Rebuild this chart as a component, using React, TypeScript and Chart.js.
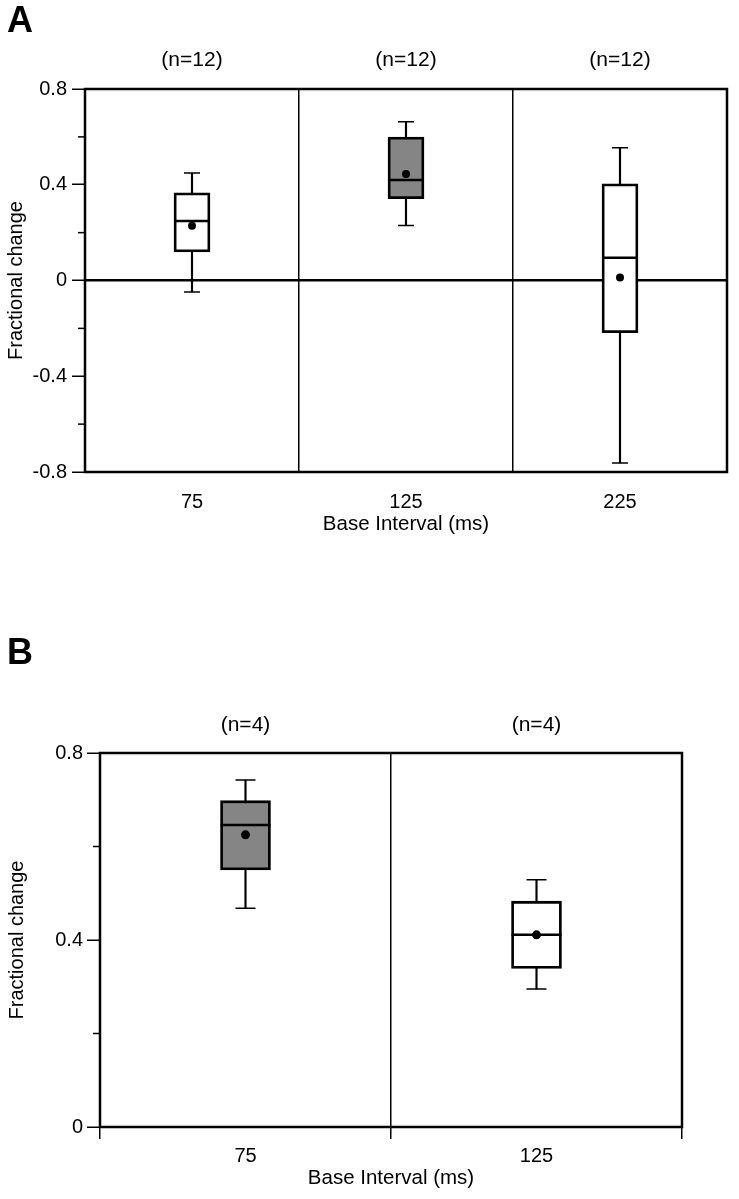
import React, { useEffect, useRef } from 'react';
import { Chart, registerables } from 'chart.js';

Chart.register(...registerables);

const FONT = "'Liberation Sans', Arial, Helvetica, sans-serif";
const GREY = '#858585';

// ---------- Panel A ----------
const categoriesA = ['75', '125', '225'];
const countLabelsA = ['(n=12)', '(n=12)', '(n=12)'];
const whiskerLowA = [-0.048, 0.23, -0.762];
const q1A = [0.119, 0.342, -0.218];
const medianA = [0.249, 0.42, 0.095];
const q3A = [0.366, 0.599, 0.404];
const whiskerHighA = [0.449, 0.663, 0.555];
const meanA = [0.229, 0.445, 0.013];
const boxFillA = ['#ffffff', GREY, '#ffffff'];
const yTicksA = [-0.8, -0.4, 0, 0.4, 0.8];
const yTickLabelsA = ['-0.8', '-0.4', '0', '0.4', '0.8'];
const yMinorTicksA = [-0.6, -0.2, 0.2, 0.6];

// ---------- Panel B ----------
const categoriesB = ['75', '125'];
const countLabelsB = ['(n=4)', '(n=4)'];
const whiskerLowB = [0.468, 0.295];
const q1B = [0.55, 0.339];
const medianB = [0.646, 0.411];
const q3B = [0.698, 0.483];
const whiskerHighB = [0.742, 0.529];
const meanB = [0.625, 0.411];
const boxFillB = [GREY, '#ffffff'];
const yTicksB = [0, 0.4, 0.8];
const yTickLabelsB = ['0', '0.4', '0.8'];
const yMinorTicksB = [0.2, 0.6];

type Panel = {
  letter: string;
  letterSize: number;
  letterBaseline: number;
  categories: string[];
  counts: string[];
  whiskerLow: number[];
  q1: number[];
  median: number[];
  q3: number[];
  whiskerHigh: number[];
  mean: number[];
  fill: string[];
  yTicks: number[];
  yTickLabels: string[];
  yMinor: number[];
  yMin: number;
  yMax: number;
  zeroLine: boolean;
  xTicks: boolean;
  boxW: number;
  capW: number;
  dotR: number;
  leftW: number;
  topH: number;
  bottomH: number;
  padRight: number;
  padBottom: number;
  xLabelPad: number;
  countPad: number;
  yTitlePad: number;
  yLabelPad: number;
};

const decorPlugin = {
  id: 'decor',
  afterDraw(chart: any) {
    const p: Panel = chart.options.plugins.decor.panel;
    const { ctx, chartArea, scales } = chart;
    const y = scales.y;
    ctx.save();
    ctx.strokeStyle = '#000';
    ctx.lineWidth = 1.5;
    p.yMinor.forEach((v) => {
      const py = y.getPixelForValue(v);
      ctx.beginPath();
      ctx.moveTo(chartArea.left - 7, py);
      ctx.lineTo(chartArea.left, py);
      ctx.stroke();
    });
    ctx.lineWidth = 2.5;
    ctx.strokeRect(
      chartArea.left,
      chartArea.top,
      chartArea.right - chartArea.left,
      chartArea.bottom - chartArea.top
    );
    ctx.fillStyle = '#000';
    ctx.font = `bold ${p.letterSize}px ${FONT}`;
    ctx.textAlign = 'left';
    ctx.textBaseline = 'alphabetic';
    ctx.fillText(p.letter, 7, p.letterBaseline);
    ctx.restore();
  },
};

function zeroHorizontalPadding(s: any) {
  s.paddingLeft = 0;
  s.paddingRight = 0;
}

function buildConfig(p: Panel): any {
  const font = { family: FONT, size: 20 };
  const countFont = { family: FONT, size: 21 };
  return {
    type: 'bar',
    data: {
      labels: p.categories,
      datasets: [
        {
          type: 'line',
          label: 'mean',
          data: p.mean,
          showLine: false,
          pointStyle: 'circle',
          pointRadius: p.dotR,
          pointBackgroundColor: '#000',
          pointBorderColor: '#000',
          pointBorderWidth: 0,
          order: 0,
        },
        {
          type: 'line',
          label: 'median',
          data: p.median,
          showLine: false,
          pointStyle: 'line',
          pointRadius: p.boxW / 2,
          pointBorderColor: '#000',
          pointBorderWidth: 2.5,
          order: 1,
        },
        {
          type: 'bar',
          label: 'box',
          data: p.q1.map((v, i) => [v, p.q3[i]]),
          backgroundColor: p.fill,
          borderColor: '#000',
          borderWidth: 2.8,
          borderSkipped: false,
          barThickness: p.boxW,
          grouped: false,
          order: 2,
        },
        {
          type: 'line',
          label: 'capHigh',
          data: p.whiskerHigh,
          showLine: false,
          pointStyle: 'line',
          pointRadius: p.capW / 2,
          pointBorderColor: '#000',
          pointBorderWidth: 1.5,
          order: 3,
        },
        {
          type: 'line',
          label: 'capLow',
          data: p.whiskerLow,
          showLine: false,
          pointStyle: 'line',
          pointRadius: p.capW / 2,
          pointBorderColor: '#000',
          pointBorderWidth: 1.5,
          order: 3,
        },
        {
          type: 'bar',
          label: 'whisker',
          data: p.whiskerLow.map((v, i) => [v, p.whiskerHigh[i]]),
          backgroundColor: '#000',
          borderWidth: 0,
          barThickness: 1.5,
          grouped: false,
          order: 4,
        },
      ],
    },
    options: {
      responsive: false,
      animation: false,
      events: [],
      layout: {
        autoPadding: false,
        padding: { left: 0, right: p.padRight, top: 0, bottom: p.padBottom },
      },
      plugins: {
        legend: { display: false },
        tooltip: { enabled: false },
        decor: { panel: p },
      },
      scales: {
        x: {
          type: 'category',
          position: 'bottom',
          offset: true,
          grid: {
            display: true,
            offset: true,
            drawOnChartArea: true,
            drawTicks: p.xTicks,
            tickLength: 12,
            color: '#000',
            lineWidth: 1.5,
            tickColor: '#000',
            tickWidth: 1.5,
          },
          border: { display: false },
          ticks: { color: '#000', font, padding: p.xLabelPad, maxRotation: 0, autoSkip: false },
          title: {
            display: true,
            text: 'Base Interval (ms)',
            color: '#000',
            font: { family: FONT, size: 20.5 },
            padding: { top: 0, bottom: 0 },
          },
          afterFit: (s: any) => {
            s.height = p.bottomH;
            zeroHorizontalPadding(s);
          },
        },
        x2: {
          type: 'category',
          labels: p.counts,
          position: 'top',
          offset: true,
          grid: { display: false, drawTicks: false },
          border: { display: false },
          ticks: { color: '#000', font: countFont, padding: p.countPad, maxRotation: 0, autoSkip: false },
          afterFit: (s: any) => {
            s.height = p.topH;
            zeroHorizontalPadding(s);
          },
        },
        y: {
          type: 'linear',
          position: 'left',
          min: p.yMin,
          max: p.yMax,
          afterBuildTicks: (s: any) => {
            s.ticks = p.yTicks.map((v) => ({ value: v }));
          },
          ticks: {
            color: '#000',
            font,
            padding: p.yLabelPad,
            callback: (value: number) => {
              const idx = p.yTicks.findIndex((t) => Math.abs(t - value) < 1e-9);
              return idx >= 0 ? p.yTickLabels[idx] : '';
            },
          },
          grid: {
            drawOnChartArea: true,
            drawTicks: true,
            tickLength: 13,
            tickColor: '#000',
            tickWidth: 1.5,
            lineWidth: 2.5,
            color: (c: any) =>
              p.zeroLine && c.tick && Math.abs(c.tick.value) < 1e-9 ? '#000' : 'rgba(0,0,0,0)',
          },
          border: { display: false },
          title: {
            display: true,
            text: 'Fractional change',
            color: '#000',
            font,
            padding: { top: p.yTitlePad, bottom: 0 },
          },
          afterFit: (s: any) => {
            s.width = p.leftW;
            s.paddingTop = 0;
            s.paddingBottom = 0;
          },
        },
      },
    },
    plugins: [decorPlugin],
  };
}

const panelA: Panel = {
  letter: 'A',
  letterSize: 36,
  letterBaseline: 32,
  categories: categoriesA,
  counts: countLabelsA,
  whiskerLow: whiskerLowA,
  q1: q1A,
  median: medianA,
  q3: q3A,
  whiskerHigh: whiskerHighA,
  mean: meanA,
  fill: boxFillA,
  yTicks: yTicksA,
  yTickLabels: yTickLabelsA,
  yMinor: yMinorTicksA,
  yMin: -0.8,
  yMax: 0.8,
  zeroLine: true,
  xTicks: false,
  boxW: 36,
  capW: 16,
  dotR: 4,
  leftW: 85,
  topH: 89,
  bottomH: 65,
  padRight: 12,
  padBottom: 3,
  xLabelPad: 18,
  countPad: 16,
  yTitlePad: 4,
  yLabelPad: 5,
};

const panelB: Panel = {
  letter: 'B',
  letterSize: 36,
  letterBaseline: 64,
  categories: categoriesB,
  counts: countLabelsB,
  whiskerLow: whiskerLowB,
  q1: q1B,
  median: medianB,
  q3: q3B,
  whiskerHigh: whiskerHighB,
  mean: meanB,
  fill: boxFillB,
  yTicks: yTicksB,
  yTickLabels: yTickLabelsB,
  yMinor: yMinorTicksB,
  yMin: 0,
  yMax: 0.8,
  zeroLine: false,
  xTicks: true,
  boxW: 50,
  capW: 20,
  dotR: 4.5,
  leftW: 100,
  topH: 153,
  bottomH: 64,
  padRight: 57,
  padBottom: 8,
  xLabelPad: 5,
  countPad: 15,
  yTitlePad: 5,
  yLabelPad: 4,
};

function PanelChart({ panel, top, height }: { panel: Panel; top: number; height: number }) {
  const ref = useRef<HTMLCanvasElement | null>(null);
  useEffect(() => {
    if (!ref.current) return;
    const chart = new Chart(ref.current, buildConfig(panel));
    return () => chart.destroy();
  }, [panel]);
  return (
    <canvas
      ref={ref}
      width={739}
      height={height}
      style={{ position: 'absolute', left: 0, top, width: 739, height, display: 'block' }}
    />
  );
}

export default function App() {
  return (
    <div
      style={{
        position: 'absolute',
        left: 0,
        top: 0,
        width: 739,
        height: 1199,
        background: '#ffffff',
        overflow: 'hidden',
      }}
    >
      <PanelChart panel={panelA} top={0} height={540} />
      <PanelChart panel={panelB} top={600} height={599} />
    </div>
  );
}
